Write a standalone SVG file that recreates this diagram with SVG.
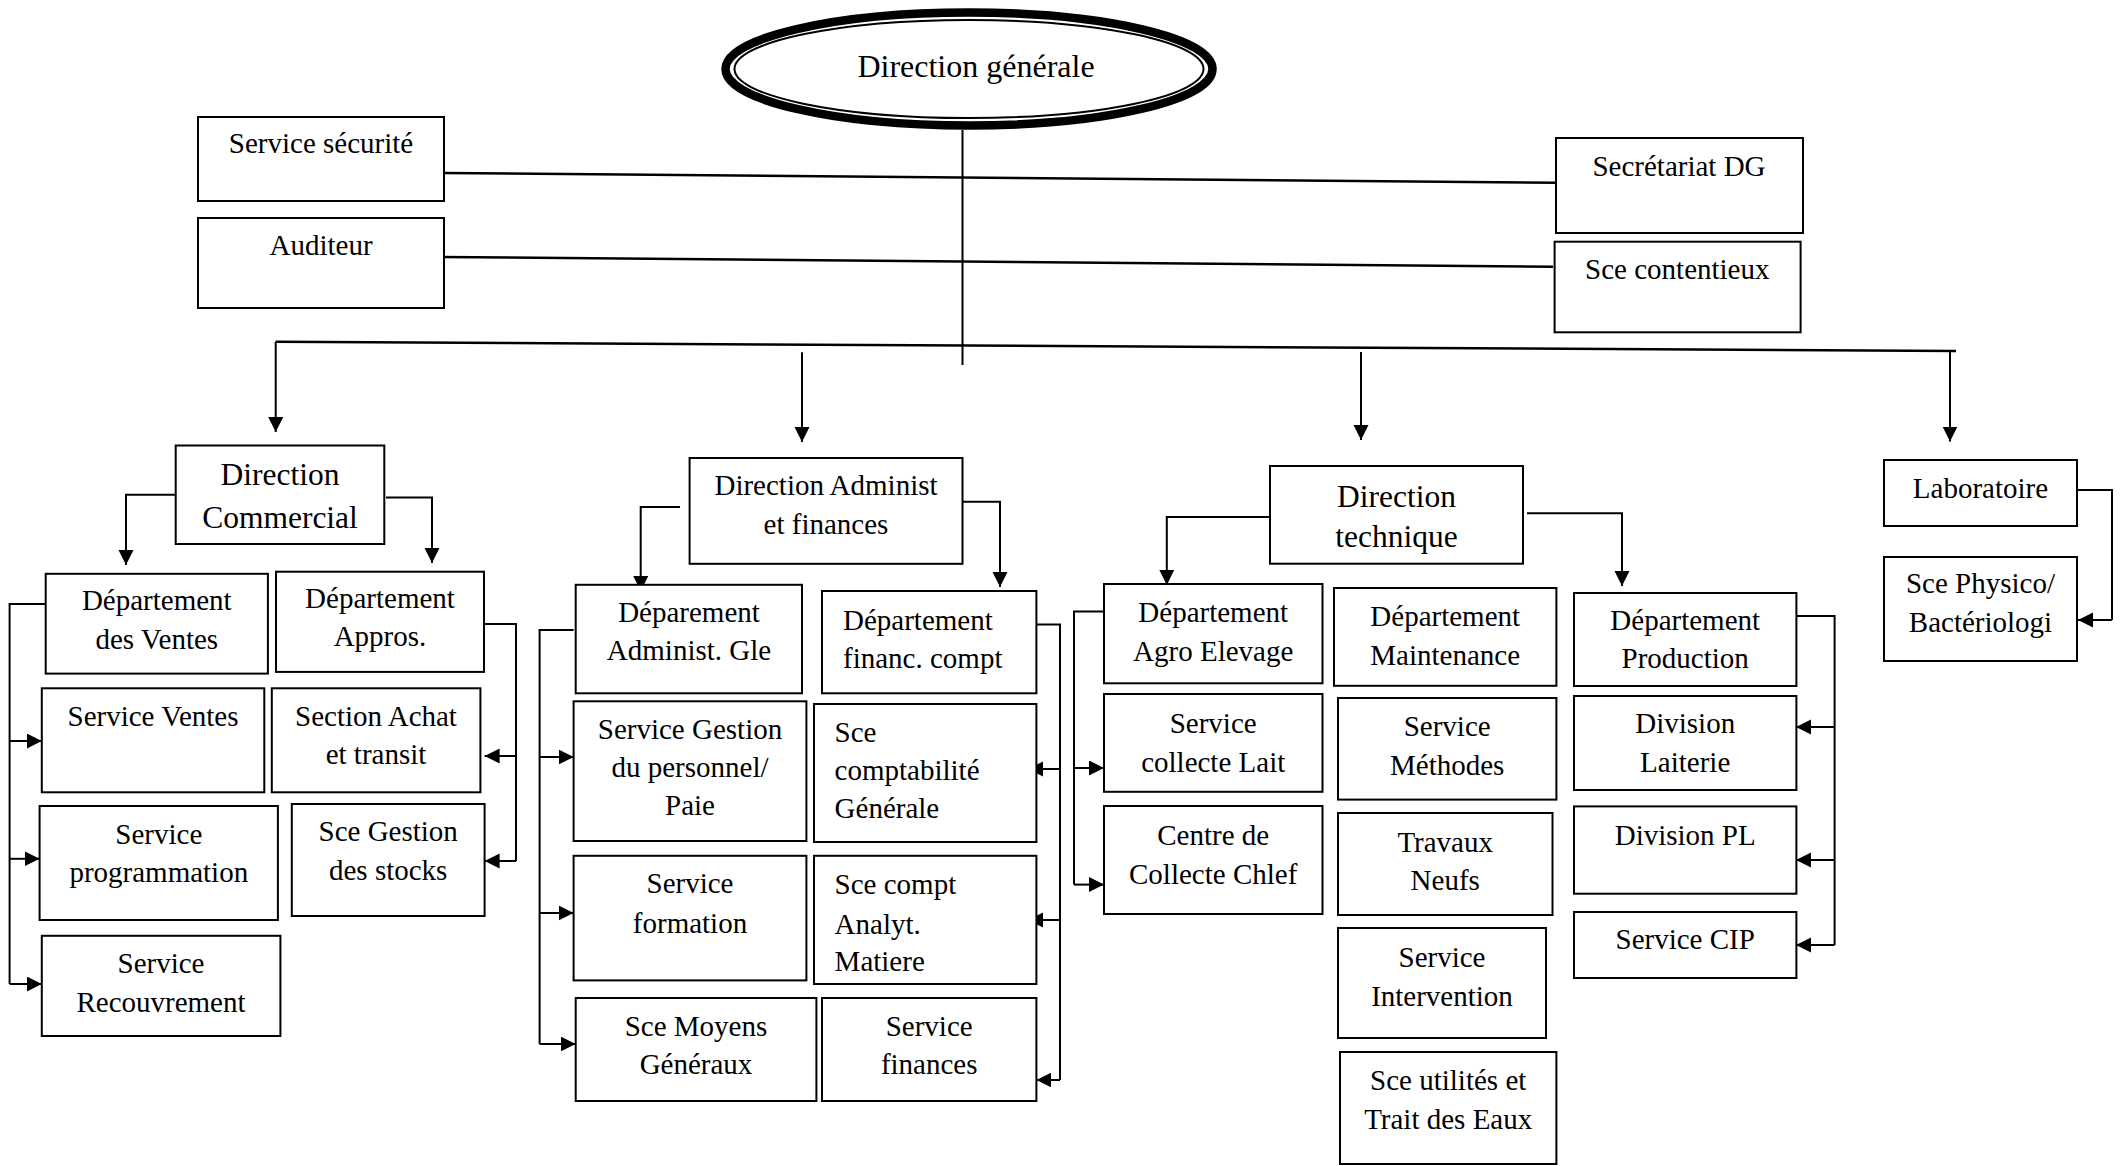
<svg xmlns="http://www.w3.org/2000/svg" width="2125" height="1166" viewBox="0 0 2125 1166">
<defs>
<marker id="arr" markerUnits="userSpaceOnUse" markerWidth="16" markerHeight="16" refX="15" refY="7.5" orient="auto">
<path d="M0,0 L15,7.5 L0,15 z" fill="#000"/>
</marker>
<style>
rect{fill:#fff;stroke:#000;stroke-width:2}
text{font-family:"Liberation Serif","Times New Roman",serif;font-size:29px;fill:#000;text-anchor:middle}
text.l{text-anchor:start}
text.big{font-size:31.5px}
#connectors path,#connectors line{fill:none;stroke:#000;stroke-width:2}
.a{marker-end:url(#arr)}
</style>
</defs>
<rect x="0" y="0" width="2125" height="1166" style="stroke:none"/>
<g id="connectors">
<line x1="443" y1="173" x2="1555" y2="182.7" style="stroke-width:2.5"/>
<line x1="440.5" y1="257" x2="1553" y2="266.7" style="stroke-width:2.5"/>
<line x1="275.7" y1="341.7" x2="1956" y2="351" style="stroke-width:2.5"/>
<line x1="962.5" y1="130" x2="962.5" y2="365"/>
<path class="a" d="M275.7 341.7 V432"/>
<path class="a" d="M802 352.3 V442"/>
<path class="a" d="M1361 352 V440"/>
<path class="a" d="M1950 352 V441.5"/>
<path class="a" d="M175.7 494.7 H126 V565"/>
<path class="a" d="M386 497.6 H432 V563"/>
<path d="M45 604 H9.6 V984"/>
<path class="a" d="M9.6 741 H41.8"/>
<path class="a" d="M9.6 858.8 H39.6"/>
<path class="a" d="M9.6 984 H41.8"/>
<path d="M484.6 624 H516 V861"/>
<path class="a" d="M516 756 H484.6"/>
<path class="a" d="M516 861 H484.6"/>
<path class="a" d="M680 507 H640.7 V591"/>
<path class="a" d="M962.5 501.8 H1000 V587"/>
<path d="M573.6 630 H539.6 V1044"/>
<path class="a" d="M539.6 757 H573.6"/>
<path class="a" d="M539.6 913 H573.6"/>
<path class="a" d="M539.6 1044 H575.7"/>
<path d="M1036.4 624.5 H1060 V1080"/>
<path class="a" d="M1060 769 H1028"/>
<path class="a" d="M1060 920 H1028"/>
<path class="a" d="M1060 1080 H1036.4"/>
<path class="a" d="M1270 517 H1166.8 V585"/>
<path class="a" d="M1527 513.3 H1622 V586"/>
<path d="M1104 611.5 H1074 V884.6"/>
<path class="a" d="M1074 768 H1104"/>
<path class="a" d="M1074 884.6 H1104"/>
<path d="M1796.4 616 H1834.6 V945"/>
<path class="a" d="M1834.6 727 H1796"/>
<path class="a" d="M1834.6 860 H1796"/>
<path class="a" d="M1834.6 945 H1796"/>
<path d="M2077 490 H2112 V620"/>
<path class="a" d="M2112 620 H2078"/>
</g>
<g id="n-dg">
<ellipse cx="969" cy="69" rx="243.5" ry="56.5" fill="#fff" stroke="#000" stroke-width="8.5"/>
<ellipse cx="969" cy="69" rx="234.5" ry="49" fill="none" stroke="#000" stroke-width="2"/>
<text x="976" y="77" style="font-size:32px">Direction générale</text>
</g>
<g id="n-securite"><rect x="198" y="117" width="246" height="84"/><text x="321" y="153">Service sécurité</text></g>
<g id="n-auditeur"><rect x="198" y="218" width="246" height="90"/><text x="321" y="255">Auditeur</text></g>
<g id="n-secretariat"><rect x="1556" y="138" width="247" height="95"/><text x="1679" y="176">Secrétariat DG</text></g>
<g id="n-contentieux"><rect x="1554.6" y="241.7" width="246" height="90.6"/><text x="1677.3" y="279">Sce contentieux</text></g>

<g id="n-dircom"><rect x="175.7" y="445.5" width="208.6" height="98.5"/><text class="big" x="280" y="485.4">Direction</text><text class="big" x="280" y="527.5">Commercial</text></g>
<g id="n-ventes"><rect x="45.7" y="573.8" width="222.2" height="99.8"/><text x="156.8" y="610.4">Département</text><text x="156.8" y="649.2">des Ventes</text></g>
<g id="n-appros"><rect x="276" y="571.7" width="208" height="100.2"/><text x="380" y="608.3">Département</text><text x="380" y="646.2">Appros.</text></g>
<g id="n-svcventes"><rect x="41.8" y="688.3" width="222.5" height="104"/><text x="153" y="726.2">Service Ventes</text></g>
<g id="n-achat"><rect x="271.8" y="688.3" width="208.6" height="104"/><text x="376" y="726.2">Section Achat</text><text x="376" y="764">et transit</text></g>
<g id="n-prog"><rect x="39.6" y="806" width="238.3" height="114"/><text x="158.8" y="844">Service</text><text x="158.8" y="882">programmation</text></g>
<g id="n-stocks"><rect x="291.8" y="804" width="192.8" height="112"/><text x="388.2" y="840.7">Sce Gestion</text><text x="388.2" y="879.8">des stocks</text></g>
<g id="n-recouv"><rect x="41.8" y="935.8" width="238.6" height="100.2"/><text x="161" y="973.2">Service</text><text x="161" y="1012.4">Recouvrement</text></g>

<g id="n-diradm"><rect x="689.6" y="458" width="272.9" height="105.8"/><text x="826" y="494.6">Direction Administ</text><text x="826" y="534">et finances</text></g>
<g id="n-admgle"><rect x="575.7" y="584.8" width="226.3" height="108.5"/><text x="689" y="621.9">Déparement</text><text x="689" y="660.3">Administ. Gle</text></g>
<g id="n-fincompt"><rect x="822" y="591" width="214.4" height="102.3"/><text class="l" x="843" y="630">Département</text><text class="l" x="843" y="668">financ. compt</text></g>
<g id="n-personnel"><rect x="573.6" y="701.3" width="232.8" height="139.7"/><text x="690" y="739.3">Service Gestion</text><text x="690" y="777.2">du personnel/</text><text x="690" y="815.2">Paie</text></g>
<g id="n-comptagen"><rect x="814" y="704" width="222.4" height="138"/><text class="l" x="834.6" y="741.5">Sce</text><text class="l" x="834.6" y="779.5">comptabilité</text><text class="l" x="834.6" y="818.3">Générale</text></g>
<g id="n-formation"><rect x="573.6" y="855.8" width="232.8" height="124.6"/><text x="690" y="893.3">Service</text><text x="690" y="932.6">formation</text></g>
<g id="n-analyt"><rect x="814" y="855.8" width="222.4" height="128.2"/><text class="l" x="834.6" y="894.2">Sce compt</text><text class="l" x="834.6" y="933.5">Analyt.</text><text class="l" x="834.6" y="970.5">Matiere</text></g>
<g id="n-moyens"><rect x="575.7" y="998" width="240.7" height="103"/><text x="696" y="1036">Sce Moyens</text><text x="696" y="1074">Généraux</text></g>
<g id="n-finances"><rect x="822" y="998" width="214.4" height="103"/><text x="929.2" y="1036">Service</text><text x="929.2" y="1074">finances</text></g>

<g id="n-dirtech"><rect x="1270" y="466" width="253" height="97.7"/><text class="big" x="1396.5" y="506.5">Direction</text><text class="big" x="1396.5" y="546.6">technique</text></g>
<g id="n-agro"><rect x="1104" y="584" width="218.5" height="99.3"/><text x="1213.2" y="622.3">Département</text><text x="1213.2" y="661.4">Agro Elevage</text></g>
<g id="n-maint"><rect x="1334" y="588" width="222.4" height="97.8"/><text x="1445.2" y="626.2">Département</text><text x="1445.2" y="665.3">Maintenance</text></g>
<g id="n-collecte"><rect x="1104" y="694" width="218.5" height="97.8"/><text x="1213.2" y="733.2">Service</text><text x="1213.2" y="772.2">collecte Lait</text></g>
<g id="n-methodes"><rect x="1338" y="698" width="218.4" height="101.6"/><text x="1447.2" y="736">Service</text><text x="1447.2" y="775.2">Méthodes</text></g>
<g id="n-chlef"><rect x="1104" y="806" width="218.5" height="108"/><text x="1213.2" y="844.6">Centre de</text><text x="1213.2" y="883.6">Collecte Chlef</text></g>
<g id="n-travaux"><rect x="1338" y="813" width="214.5" height="102"/><text x="1445.2" y="851.9">Travaux</text><text x="1445.2" y="889.5">Neufs</text></g>
<g id="n-intervention"><rect x="1338" y="928" width="208" height="110"/><text x="1442" y="966.7">Service</text><text x="1442" y="1005.8">Intervention</text></g>
<g id="n-utilites"><rect x="1340" y="1052" width="216.4" height="112"/><text x="1448.2" y="1089.8">Sce utilités et</text><text x="1448.2" y="1129.4">Trait des Eaux</text></g>

<g id="n-production"><rect x="1574" y="593" width="222.4" height="93"/><text x="1685.2" y="629.6">Département</text><text x="1685.2" y="667.9">Production</text></g>
<g id="n-laiterie"><rect x="1574" y="696" width="222.4" height="94"/><text x="1685.2" y="733">Division</text><text x="1685.2" y="772">Laiterie</text></g>
<g id="n-pl"><rect x="1574" y="806.4" width="222.4" height="87.3"/><text x="1685.2" y="844.7">Division PL</text></g>
<g id="n-cip"><rect x="1574" y="912" width="222.4" height="66"/><text x="1685.2" y="949.2">Service CIP</text></g>

<g id="n-labo"><rect x="1884" y="460" width="193" height="66"/><text x="1980.5" y="497.6">Laboratoire</text></g>
<g id="n-physico"><rect x="1884" y="557" width="193" height="104"/><text x="1980.5" y="593.3">Sce Physico/</text><text x="1980.5" y="631.5">Bactériologi</text></g>
</svg>
